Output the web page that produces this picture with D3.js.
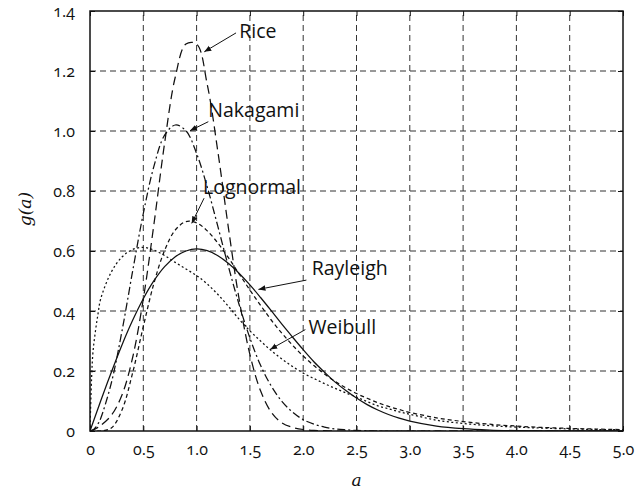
<!DOCTYPE html>
<html>
<head>
<meta charset="utf-8">
<script src="https://cdn.jsdelivr.net/npm/d3@7/dist/d3.min.js"></script>
<style>
  html, body { margin: 0; padding: 0; background: #fff; }
  svg { display: block; }
  .tick-label { font-family: "Open Sans", "Noto Sans", sans-serif; font-size: 16px; fill: #111; font-variant-numeric: oldstyle-nums; }
  .ann { font-family: "Open Sans", "Noto Sans", sans-serif; font-size: 19.5px; fill: #111; }
  .axis-title { font-family: "DejaVu Serif", "Liberation Serif", serif; font-style: italic; font-size: 17px; fill: #111; }
</style>
</head>
<body>
<svg id="chart" width="636" height="492"></svg>
<script>
// ---- data ----
const aValues = [0, 0.025, 0.05, 0.075, 0.1, 0.2, 0.3, 0.4, 0.5, 0.6, 0.7, 0.8, 0.9, 1.0,
  1.1, 1.2, 1.3, 1.4, 1.5, 1.6, 1.7, 1.8, 1.9, 2.0, 2.1, 2.2, 2.3, 2.4, 2.5, 2.6, 2.7, 2.8, 2.9, 3.0,
  3.25, 3.5, 3.75, 4.0, 4.25, 4.5, 4.75, 5.0];

const rayleigh = [0, 0.025, 0.050, 0.075, 0.100, 0.196, 0.287, 0.369, 0.441, 0.501, 0.548, 0.581, 0.600, 0.607,
  0.601, 0.584, 0.558, 0.525, 0.487, 0.445, 0.401, 0.356, 0.313, 0.271, 0.231, 0.196, 0.163, 0.135, 0.110, 0.088, 0.070, 0.055, 0.043, 0.033,
  0.0165, 0.0077, 0.0033, 0.0013, 0.0005, 0.0002, 0.0001, 0];

const rice = [0, 0.003, 0.007, 0.012, 0.018, 0.052, 0.120, 0.245, 0.440, 0.690, 0.960, 1.180, 1.290, 1.290,
  1.155, 0.930, 0.673, 0.437, 0.255, 0.134, 0.063, 0.027, 0.012, 0.005, 0.002, 0.001, 0, 0, 0, 0, 0, 0, 0, 0,
  0, 0, 0, 0, 0, 0, 0, 0];

const nakagami = [0, 0.003, 0.011, 0.024, 0.042, 0.160, 0.333, 0.533, 0.725, 0.883, 0.986, 1.020, 1.001, 0.925,
  0.813, 0.681, 0.546, 0.420, 0.310, 0.219, 0.150, 0.099, 0.063, 0.038, 0.023, 0.013, 0.007, 0.004, 0.002, 0.001, 0, 0, 0, 0,
  0, 0, 0, 0, 0, 0, 0, 0];

const lognormal = [0, 0, 0, 0, 0.0001, 0.010, 0.070, 0.194, 0.348, 0.493, 0.602, 0.670, 0.698, 0.694,
  0.667, 0.626, 0.577, 0.523, 0.470, 0.419, 0.370, 0.326, 0.286, 0.250, 0.218, 0.190, 0.165, 0.144, 0.125, 0.109, 0.0945, 0.082, 0.0715, 0.062,
  0.044, 0.0315, 0.0226, 0.0163, 0.0118, 0.0086, 0.0064, 0.0047];

const weibull = [0, 0.25, 0.33, 0.39, 0.44, 0.53, 0.58, 0.605, 0.612, 0.603, 0.585, 0.562, 0.540, 0.518,
  0.490, 0.455, 0.415, 0.372, 0.334, 0.300, 0.268, 0.240, 0.215, 0.193, 0.175, 0.158, 0.142, 0.127, 0.113, 0.098, 0.084, 0.074, 0.064, 0.056,
  0.036, 0.025, 0.018, 0.013, 0.0095, 0.007, 0.005, 0.004];

const xTicks = [0, 0.5, 1.0, 1.5, 2.0, 2.5, 3.0, 3.5, 4.0, 4.5, 5.0];
const xTickLabels = ["0", "0.5", "1.0", "1.5", "2.0", "2.5", "3.0", "3.5", "4.0", "4.5", "5.0"];
const yTicks = [0, 0.2, 0.4, 0.6, 0.8, 1.0, 1.2, 1.4];
const yTickLabels = ["0", "0.2", "0.4", "0.6", "0.8", "1.0", "1.2", "1.4"];

const seriesNames = ["Rice", "Nakagami", "Lognormal", "Rayleigh", "Weibull"];
const seriesValues = [rice, nakagami, lognormal, rayleigh, weibull];
const seriesDash = ["9,5", "8,3,2,3", "4,3", null, "2,2.5"];

// annotation: label, text position (a, g), arrow start (a, g), arrow end (a, g)
const annLabels = ["Rice", "Nakagami", "Lognormal", "Rayleigh", "Weibull"];
const annText = [[1.40, 1.333], [1.11, 1.07], [1.06, 0.813], [2.08, 0.543], [2.05, 0.347]];
const annFrom = [[1.37, 1.327], [1.11, 1.031], [1.07, 0.776], [2.03, 0.503], [2.02, 0.338]];
const annTo = [[1.072, 1.264], [0.938, 1.001], [0.954, 0.692], [1.58, 0.472], [1.69, 0.272]];

// ---- layout ----
const W = 636, H = 492;
const margin = { left: 90, right: 13, top: 11, bottom: 61 };
const svg = d3.select("#chart");
const x = d3.scaleLinear().domain([0, 5]).range([margin.left, W - margin.right]);
const y = d3.scaleLinear().domain([0, 1.4]).range([H - margin.bottom, margin.top]);
const x0 = x(0), x1 = x(5), y0 = y(0), y1 = y(1.4);

svg.append("defs").append("clipPath").attr("id", "plotClip")
  .append("rect").attr("x", x0).attr("y", y1).attr("width", x1 - x0).attr("height", y0 - y1);

svg.append("defs").append("marker")
  .attr("id", "arrowHead").attr("viewBox", "0 0 10 10").attr("refX", 10).attr("refY", 5)
  .attr("markerWidth", 7).attr("markerHeight", 7).attr("markerUnits", "userSpaceOnUse")
  .attr("orient", "auto")
  .append("path").attr("d", "M0,1 L10,5 L0,9 Z").attr("fill", "#111");

// grid
const grid = svg.append("g").attr("stroke", "#333").attr("stroke-width", 1).attr("stroke-dasharray", "6,4").attr("fill", "none");
xTicks.slice(1, -1).forEach(t => {
  grid.append("line").attr("x1", x(t)).attr("x2", x(t)).attr("y1", y0).attr("y2", y1);
});
yTicks.slice(1, -1).forEach(t => {
  grid.append("line").attr("x1", x0).attr("x2", x1).attr("y1", y(t)).attr("y2", y(t));
});

// axes via d3 axis (ticks inward)
const xAxisB = d3.axisBottom(x).tickValues(xTicks).tickSize(-5).tickFormat((d, i) => xTickLabels[i]).tickPadding(16);
const gxb = svg.append("g").attr("transform", `translate(0,${y0})`).call(xAxisB);
const yAxisL = d3.axisLeft(y).tickValues(yTicks).tickSize(-5).tickFormat((d, i) => yTickLabels[i]).tickPadding(15);
const gyl = svg.append("g").attr("transform", `translate(${x0},0)`).call(yAxisL);
const xAxisT = d3.axisTop(x).tickValues(xTicks).tickSize(-5).tickFormat("");
const gxt = svg.append("g").attr("transform", `translate(0,${y1})`).call(xAxisT);
const yAxisR = d3.axisRight(y).tickValues(yTicks).tickSize(-5).tickFormat("");
const gyr = svg.append("g").attr("transform", `translate(${x1},0)`).call(yAxisR);
[gxb, gyl, gxt, gyr].forEach(g => {
  g.select(".domain").remove();
  g.selectAll(".tick line").attr("stroke", "#111").attr("stroke-width", 1);
  g.selectAll("text").attr("class", "tick-label").attr("font-size", null).attr("font-family", null).attr("fill", null);
});
gxb.selectAll("text").attr("dy", "0.5em");

// curves
const line = d3.line()
  .x((d, i) => x(aValues[i]))
  .y(d => y(d))
  .curve(d3.curveCatmullRom.alpha(0.5));
const curves = svg.append("g").attr("clip-path", "url(#plotClip)");
seriesValues.forEach((vals, k) => {
  const p = curves.append("path").datum(vals)
    .attr("d", line)
    .attr("fill", "none")
    .attr("stroke", "#111")
    .attr("stroke-width", 1.25);
  if (seriesDash[k]) p.attr("stroke-dasharray", seriesDash[k]);
});

// frame
svg.append("rect").attr("x", x0).attr("y", y1).attr("width", x1 - x0).attr("height", y0 - y1)
  .attr("fill", "none").attr("stroke", "#111").attr("stroke-width", 1.5);

// annotations
const ann = svg.append("g");
annLabels.forEach((lab, i) => {
  ann.append("line")
    .attr("x1", x(annFrom[i][0])).attr("y1", y(annFrom[i][1]))
    .attr("x2", x(annTo[i][0])).attr("y2", y(annTo[i][1]))
    .attr("stroke", "#111").attr("stroke-width", 1)
    .attr("marker-end", "url(#arrowHead)");
  ann.append("text").attr("class", "ann")
    .attr("x", x(annText[i][0])).attr("y", y(annText[i][1]))
    .attr("dy", "0.35em")
    .text(lab);
});

// axis titles
svg.append("text").attr("class", "axis-title")
  .attr("x", x(2.5)).attr("y", 486).attr("text-anchor", "middle").text("a");
svg.append("text").attr("class", "axis-title")
  .attr("transform", `translate(31,${y(0.74)}) rotate(-90)`)
  .attr("text-anchor", "middle").text("g(a)");
</script>
</body>
</html>
